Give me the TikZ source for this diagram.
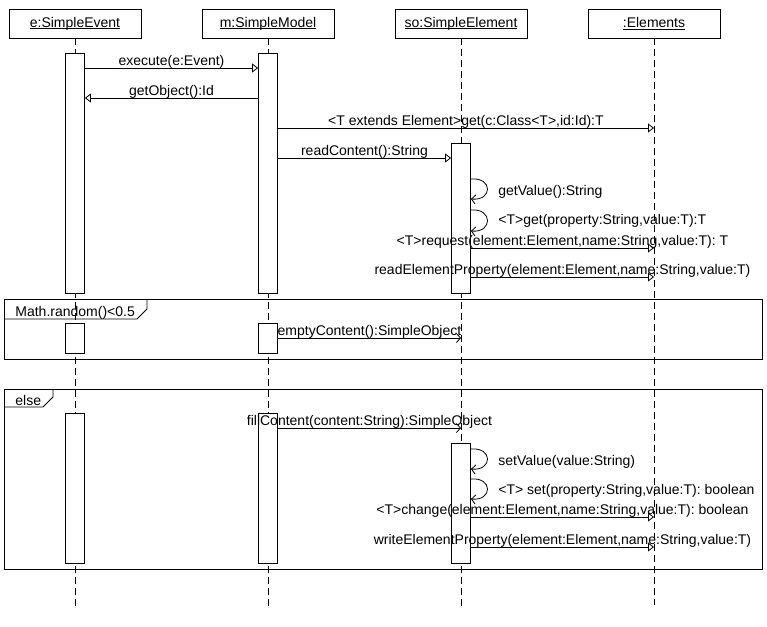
\documentclass[tikz,border=0pt]{standalone}
\usepackage{fontspec}
\setmainfont{Liberation Sans}
\usetikzlibrary{arrows.meta}
\newcommand{\objname}[1]{\sbox0{#1}\rlap{\rule[-1.8pt]{\wd0}{0.7pt}}\usebox0}

\begin{document}
\begin{tikzpicture}[x=1pt, y=-1pt, line width=0.8pt,
  obj/.style={draw, minimum width=132pt, minimum height=29pt, inner sep=0pt, font=\fontsize{14}{16}\selectfont},
  act/.style={draw, fill=white, minimum width=19pt, inner sep=0pt},
  life/.style={dash pattern=on 7pt off 4pt},
  call/.style={-{Triangle[open, length=6pt, width=9pt]}},
  async/.style={-{Straight Barb[length=4pt, width=9pt]}},
  lbl/.style={font=\fontsize{14}{16}\selectfont, inner sep=0pt, anchor=base, yshift=3pt},
  note/.style={font=\fontsize{14}{16}\selectfont, inner sep=0pt, anchor=base west}
]
\useasboundingbox (0,0) rectangle (767,626);

\node[obj] (ev)  at (75,23.5)  {\objname{e:SimpleEvent}};
\node[obj] (mod) at (268,23.5) {\objname{m:SimpleModel}};
\node[obj] (so)  at (461,23.5) {\objname{so:SimpleElement}};
\node[obj] (els) at (654,23.5) {\objname{:Elements}};

\coordinate (evEnd)  at (75,610);
\coordinate (modEnd) at (268,610);
\coordinate (soEnd)  at (461,610);
\coordinate (elsEnd) at (654,605);
\draw[life] (ev) -- (evEnd);
\draw[life] (mod) -- (modEnd);
\draw[life] (so) -- (soEnd);
\draw[life] (els) -- (elsEnd);

\draw (4,299) rectangle (762,359);
\draw (4,319) -- (137,319) -- (147,309) -- (147,299);
\node[note] (guard) at (15,316) {Math.random()<0.5};
\draw (4,389) rectangle (762,569);
\draw (4,407) -- (43,407) -- (53,397) -- (53,389);
\node[note] (alt) at (15,405) {else};

\node[act, minimum height=240pt] (ev1)  at (75,173)  {};
\node[act, minimum height=240pt] (mod1) at (268,173) {};
\node[act, minimum height=150pt] (so1)  at (461,218) {};
\node[act, minimum height=30pt]  (ev2)  at (75,338)  {};
\node[act, minimum height=30pt]  (mod2) at (268,338) {};
\node[act, minimum height=150pt] (ev3)  at (75,488)  {};
\node[act, minimum height=150pt] (mod3) at (268,488) {};
\node[act, minimum height=120pt] (so3)  at (461,503) {};

\draw[call] (ev1.east |- 0,68) -- node[lbl, midway]{execute(e:Event)} (mod1.west |- 0,68);
\draw[call] (mod1.west |- 0,98) -- node[lbl, midway]{getObject():Id} (ev1.east |- 0,98);
\draw[call] (mod1.east |- 0,128) -- node[lbl, midway]{<T extends Element>get(c:Class<T>,id:Id):T} (els.south |- 0,128);
\draw[call] (mod1.east |- 0,158) -- node[lbl, midway]{readContent():String} (so1.west |- 0,158);
\draw[async] (so1.east |- 0,179) .. controls +(22,-2) and +(22,2) .. (so1.east |- 0,199);
\node[note] (getv) at (498,195) {getValue():String};
\draw[async] (so1.east |- 0,210) .. controls +(22,-2) and +(22,2) .. (so1.east |- 0,231);
\node[note] (getp) at (498,224) {<T>get(property:String,value:T):T};
\draw[call] (so1.east |- 0,248) -- node[lbl, midway]{<T>request(element:Element,name:String,value:T): T} (els.south |- 0,248);
\draw[call] (so1.east |- 0,277) -- node[lbl, midway]{readElementProperty(element:Element,name:String,value:T)} (els.south |- 0,277);

\draw[async] (mod2.east |- 0,338) -- node[lbl, midway]{emptyContent():SimpleObject} (so.south |- 0,338);

\draw[async] (mod3.east |- 0,428) -- node[lbl, midway]{fillContent(content:String):SimpleObject} (so.south |- 0,428);
\draw[async] (so3.east |- 0,449) .. controls +(22,-2) and +(22,2) .. (so3.east |- 0,469);
\node[note] (setv) at (498,465) {setValue(value:String)};
\draw[async] (so3.east |- 0,479) .. controls +(22,-2) and +(22,2) .. (so3.east |- 0,499);
\node[note] (setp) at (498,494) {<T> set(property:String,value:T): boolean};
\draw[call] (so3.east |- 0,517) -- node[lbl, midway]{<T>change(element:Element,name:String,value:T): boolean} (els.south |- 0,517);
\draw[call] (so3.east |- 0,547) -- node[lbl, midway]{writeElementProperty(element:Element,name:String,value:T)} (els.south |- 0,547);
\end{tikzpicture}
\end{document}
